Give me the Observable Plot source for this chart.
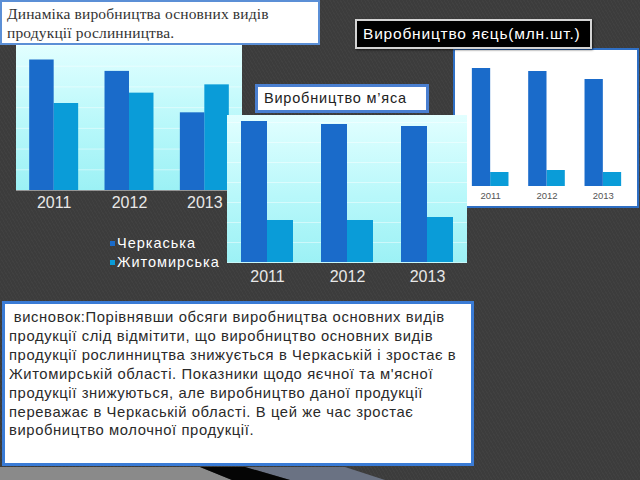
<!DOCTYPE html>
<html><head><meta charset="utf-8">
<script src="https://cdn.jsdelivr.net/npm/d3@7"></script>
<script src="https://cdn.jsdelivr.net/npm/@observablehq/plot@0.6"></script>
<style>
html,body{margin:0;padding:0;}
body{width:640px;height:480px;overflow:hidden;position:relative;background:#3c3c3c;font-family:"Liberation Sans",Arial,sans-serif;
background-image:repeating-linear-gradient(60deg,rgba(255,255,255,0.025) 0 1px,rgba(0,0,0,0) 1px 3px);}
.abs{position:absolute;box-sizing:border-box;}
.cyan{background:linear-gradient(180deg,#e2ffff 0%,#b8f8fa 55%,#9cf1f5 100%);}
#title{left:0;top:0;width:320px;height:45px;background:#fff;border:2px solid #5b8fd6;font-family:"Liberation Serif","DejaVu Serif",serif;font-size:15.5px;line-height:19px;color:#333;padding:2px 0 0 5px;letter-spacing:0.15px;z-index:5;}
#meatLbl{left:255px;top:84px;width:174px;height:29px;background:#fff;border:3px solid #4a7fd0;font-size:14.5px;line-height:23px;color:#222;padding-left:6px;letter-spacing:0.8px;z-index:5;}
#eggLbl{left:355px;top:19px;width:237px;height:30px;background:#000;border:2px solid #d4d4d4;box-shadow:1px 1px 2px rgba(0,0,0,0.6);font-size:15.5px;line-height:25px;color:#fff;padding-left:6px;letter-spacing:0.8px;z-index:5;}
#concl{left:2px;top:301px;width:472px;height:165px;background:#fff;border:3px solid #3a7bd5;font-size:14.8px;line-height:18.9px;color:#2a2a2a;padding:4px 0 0 4px;letter-spacing:0.6px;z-index:5;}
.legend{left:110px;top:234px;color:#fff;font-size:14.5px;line-height:19px;letter-spacing:1px;z-index:1;}
.legend span.sw{display:inline-block;width:5px;height:5px;margin-right:2px;vertical-align:2px;}
</style></head><body>
<script>
// ---------- data ----------
const years = ["2011", "2012", "2013"];
const regions = ["Черкаська", "Житомирська"];
const regionColors = ["#1a6bca", "#0a9cd8"];
// Plant-growing production (relative units)
const plantCherkasy = [126, 115, 75];
const plantZhytomyr = [84, 94, 102];
// Meat production (relative units)
const meatCherkasy = [141, 138, 136];
const meatZhytomyr = [42, 42, 45];
// Egg production, mln pcs
const eggCherkasy = [1180, 1150, 1070];
const eggZhytomyr = [140, 160, 140];

const titleText = ["Динаміка виробництва основних видів", "продукції рослинництва."];
const meatTitle = "Виробництво м’яса";
const eggTitle = "Виробництво яєць(млн.шт.)";
const conclusionLines = [
  " висновок:Порівнявши обсяги виробництва основних видів",
  "продукції слід відмітити, що виробництво основних видів",
  "продукції рослинництва знижується в Черкаській і зростає в",
  "Житомирській області. Показники щодо яєчної та м'ясної",
  "продукції знижуються, але виробництво даної продукції",
  "переважає в Черкаській області. В цей же час зростає",
  "виробництво молочної продукції."
];

function el(cls, id, css, parent) {
  const d = document.createElement("div");
  d.className = "abs " + (cls || "");
  if (id) d.id = id;
  Object.assign(d.style, css || {});
  (parent || document.body).appendChild(d);
  return d;
}

function groupedChart(a, b, opt) {
  const data = years.map((y, i) => ({year: y, a: a[i], b: b[i]}));
  const plotW = opt.width - opt.marginLeft - opt.marginRight;
  const step = plotW / years.length;
  const half = step * 0.65 / 2;
  return Plot.plot({
    width: opt.width, height: opt.height,
    marginTop: 0, marginBottom: opt.marginBottom, marginLeft: opt.marginLeft, marginRight: opt.marginRight,
    style: {background: "transparent", fontFamily: "Liberation Sans, Arial, sans-serif", fontSize: opt.fontSize + "px", color: opt.labelColor, overflow: "visible"},
    x: {domain: years, paddingInner: 0.35, paddingOuter: 0.175, round: false, label: null, tickSize: 0, tickPadding: opt.tickPadding},
    y: {domain: [0, opt.yMax], axis: null},
    marks: [
      opt.grid ? Plot.gridY({ticks: opt.grid, stroke: "#ffffff", strokeOpacity: 0.45}) : null,
      Plot.barY(data, {x: "year", y: "b", fill: regionColors[1], insetLeft: half}),
      Plot.barY(data, {x: "year", y: "a", fill: regionColors[0], insetRight: half})
    ]
  });
}

// bottom decorative strip
el("", null, {left: "0px", top: "467px", width: "640px", height: "13px", background: "#8a8a8a", clipPath: "polygon(0 0, 200px 0, 232px 100%, 0 100%)", zIndex: 0});
el("", null, {left: "0px", top: "467px", width: "640px", height: "13px", background: "#6a7283", clipPath: "polygon(245px 0, 345px 0, 385px 100%, 290px 100%)", zIndex: 0});
el("", null, {left: "0px", top: "467px", width: "640px", height: "13px", background: "#050505", clipPath: "polygon(200px 0, 245px 0, 290px 100%, 232px 100%)", zIndex: 0});

// title
const t = el("", "title");
t.innerHTML = titleText.join("<br>");

// chart 1: plant production
el("cyan", null, {left: "16px", top: "45px", width: "226px", height: "145px", zIndex: 1});
const c1 = el("", null, {left: "16px", top: "45px", zIndex: 1});
c1.appendChild(groupedChart(plantCherkasy, plantZhytomyr, {width: 226, height: 170, marginBottom: 25, marginLeft: 0, marginRight: 0, yMax: 140, fontSize: 16, labelColor: "#e8e8e8", tickPadding: 6, grid: 6}));
const lg = el("legend", null, {});
lg.innerHTML = regions.map((r, i) => `<div><span class="sw" style="background:${regionColors[i]}"></span>${r}</div>`).join("");

// chart 3: eggs
el("", null, {left: "453px", top: "48px", width: "186px", height: "160px", background: "#fff", border: "2px solid #2f6fc4", zIndex: 1});
const c3 = el("", null, {left: "455px", top: "50px", zIndex: 1});
c3.appendChild(groupedChart(eggCherkasy, eggZhytomyr, {width: 181, height: 156, marginBottom: 20, marginLeft: 7, marginRight: 5, yMax: 1360, fontSize: 9.5, labelColor: "#555", tickPadding: 6, grid: 0}));
const eg = el("", "eggLbl");
eg.textContent = eggTitle;

// chart 2: meat
el("cyan", null, {left: "227px", top: "115px", width: "240px", height: "148px", zIndex: 2});
const c2 = el("", null, {left: "227px", top: "115px", zIndex: 2});
c2.appendChild(groupedChart(meatCherkasy, meatZhytomyr, {width: 240, height: 175, marginBottom: 28, marginLeft: 0, marginRight: 0, yMax: 147, fontSize: 16, labelColor: "#e8e8e8", tickPadding: 8, grid: 7}));
const ml = el("", "meatLbl");
ml.textContent = meatTitle;

// conclusion
const cc = el("", "concl");
cc.innerHTML = conclusionLines.map(l => l.replace(/^ /, "&nbsp;")).join("<br>");
</script>
</body></html>
